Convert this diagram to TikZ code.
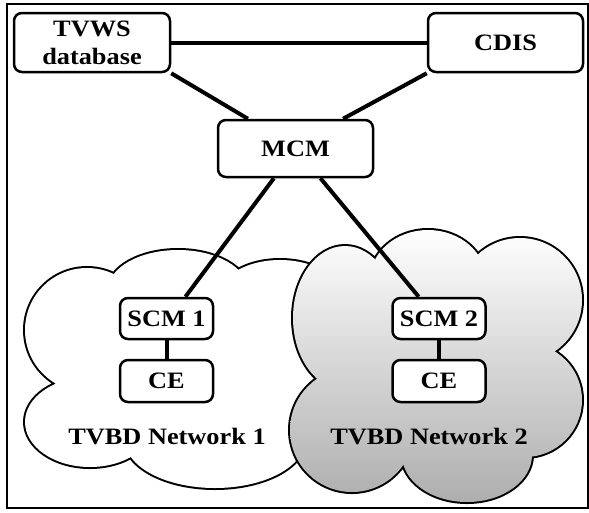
\documentclass[tikz,border=0pt]{standalone}
\usepackage{fontspec}
\setmainfont[FakeStretch=1.12]{Liberation Serif}
\usepackage{tikz}
\usetikzlibrary{
	calc,
	positioning
}

\tikzset{
	box/.style={draw, line width=2.5pt, rounded corners=8pt, fill=white,
		inner sep=0pt, align=center},
	link/.style={line width=4pt},
	rim/.style={draw, line width=4pt}
}

% puffs of the two networks (centre, radii)
\newcommand{\NetA}{
	(87,330) ellipse (62 and 62)
	(178,290) ellipse (70 and 40)
	(280,295) ellipse (60 and 35)
	(310,370) ellipse (40 and 60)
	(215,440) ellipse (90 and 48)
	(90,422) ellipse (65 and 45)
	(195,365) ellipse (110 and 62)
}
\newcommand{\NetB}{
	(345,318) ellipse (52 and 72)
	(428,280) ellipse (58 and 50)
	(520,300) ellipse (62 and 62)
	(525,400) ellipse (57 and 57)
	(467,455) ellipse (65 and 47)
	(352,430) ellipse (62 and 62)
	(440,370) ellipse (100 and 80)
}

\begin{document}
\begin{tikzpicture}
	[x=1pt, y=-1pt, font=\fontsize{23.5}{28}\selectfont\bfseries]

	\useasboundingbox (0,0) rectangle (589,512);

	% outer frame
	\draw[line width=2pt] (7,4) rectangle (588,508);

	% networks
	\begin{scope}
		% cloud 1
		\path[rim] \NetA;
		\fill[white] \NetA;
		% cloud 2
		\path[rim] \NetB;
		\begin{scope}
			\clip \NetB;
			\shade[top color=white, bottom color=black!32] (280,228) rectangle (590,504);
		\end{scope}

		\node (labA) at (167,437) {TVBD Network 1};
		\node (labB) at (429,437) {TVBD Network 2};
	\end{scope}

	% managers
	\begin{scope}
		\node[box, minimum width=156pt, minimum height=59pt] (tvws) at (92,42.5) {TVWS\\database};
		\node[box, minimum width=155pt, minimum height=59pt] (cdis) at (505.5,42.5) {CDIS};
		\node[box, minimum width=155pt, minimum height=57pt] (mcm) at (295.5,148.5) {MCM};
	\end{scope}

	% subnetwork boxes
	\begin{scope}
		\foreach \n/\x in {1/166.5, 2/439} {
			\node[box, minimum width=93pt, minimum height=41pt] (scm\n) at (\x,318.5) {SCM \n};
			\node[box, minimum width=93pt, minimum height=42pt] (ce\n) at (\x,381) {CE};
		}
	\end{scope}

	% links
	\begin{scope}[link]
		\draw (tvws) -- (cdis);
		\draw (tvws.south east) -- (mcm.148);
		\draw (cdis.south west) -- (mcm.32);
		\draw (mcm.234) -- (scm1.49);
		\draw (mcm.310) -- (scm2.133);
		\draw (scm1) -- (ce1);
		\draw (scm2) -- (ce2);
	\end{scope}

\end{tikzpicture}
\end{document}
